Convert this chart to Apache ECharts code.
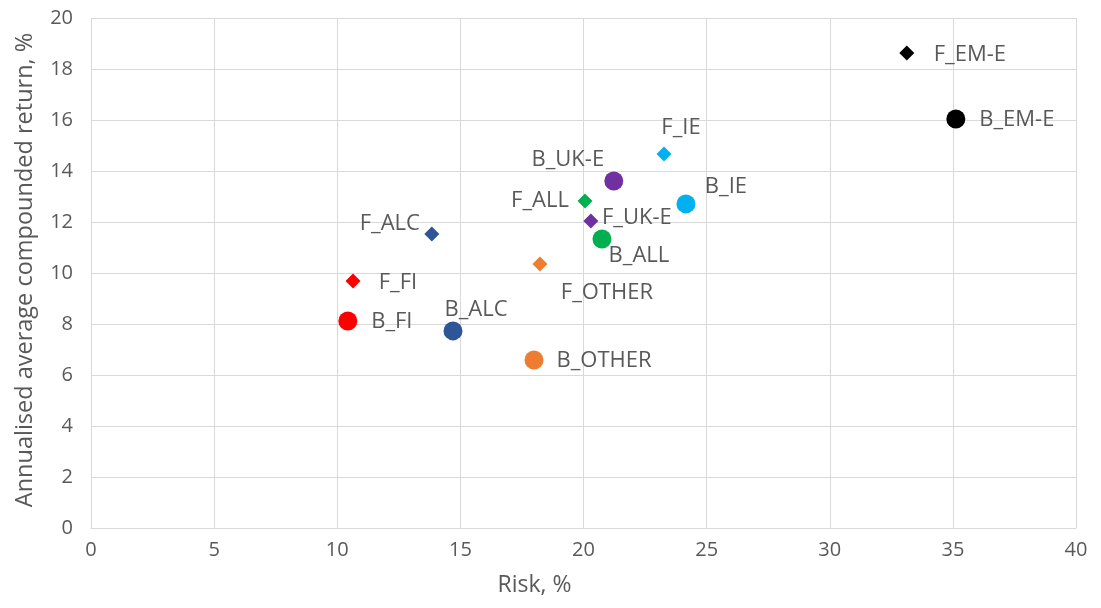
<!DOCTYPE html>
<html>
<head>
<meta charset="utf-8">
<script src="https://cdn.jsdelivr.net/npm/echarts@6/dist/echarts.min.js"></script>
<style>
  html, body { margin: 0; padding: 0; background: #fff; }
  #chart { width: 1101px; height: 608px; }
</style>
</head>
<body>
<div id="chart"></div>
<script>
// F_ funds (diamonds)
const fNames = ['F_EM-E', 'F_IE', 'F_ALL', 'F_UK-E', 'F_ALC', 'F_OTHER', 'F_FI']
const fRisk = [33.13, 23.27, 20.06, 20.30, 13.84, 18.23, 10.64]
const fReturn = [18.63, 14.67, 12.82, 12.04, 11.53, 10.35, 9.69]

// B_ funds (circles)
const bNames = ['B_EM-E', 'B_IE', 'B_UK-E', 'B_ALL', 'B_FI', 'B_ALC', 'B_OTHER']
const bRisk = [35.12, 24.16, 21.23, 20.75, 10.43, 14.70, 17.99]
const bReturn = [16.04, 12.71, 13.61, 11.33, 8.12, 7.73, 6.59]

const xTicks = [0, 5, 10, 15, 20, 25, 30, 35, 40]
const yTicks = [0, 2, 4, 6, 8, 10, 12, 14, 16, 18, 20]

// colour per group
const colors = {
  'EM-E': '#000000',
  'IE': '#00B0F0',
  'UK-E': '#7030A0',
  'ALL': '#00B050',
  'ALC': '#2F5597',
  'OTHER': '#ED7D31',
  'FI': '#FF0000'
}

// label offsets from marker centre (px)
const labelOffset = {
  'F_EM-E': [63, 2], 'B_EM-E': [61, 1],
  'F_IE': [17, -26], 'B_IE': [40, -17],
  'B_UK-E': [-46, -21], 'F_UK-E': [46, -3],
  'F_ALL': [-45, 0], 'B_ALL': [37, 17],
  'F_ALC': [-42, -10], 'B_ALC': [23, -21],
  'F_OTHER': [67, 29], 'B_OTHER': [70, 1],
  'F_FI': [45, 2], 'B_FI': [44, 1]
}

function build(names, risk, ret) {
  return names.map((n, i) => ({
    name: n,
    value: [risk[i], ret[i]],
    itemStyle: { color: colors[n.slice(2)], opacity: 1 },
    label: { offset: labelOffset[n] }
  }))
}

const font = 'Open Sans'
const labelStyle = {
  show: true,
  position: 'inside',
  formatter: '{b}',
  fontFamily: font,
  fontSize: 22,
  color: '#595959'
}

const gridLine = { show: true, lineStyle: { color: '#D9D9D9', width: 1 } }

const option = {
  animation: false,
  grid: { left: 91, right: 25, top: 18, bottom: 80 },
  xAxis: {
    type: 'value',
    min: 0, max: 40, interval: 5,
    name: 'Risk, %',
    nameLocation: 'middle',
    nameGap: 46,
    nameTextStyle: { fontFamily: font, fontSize: 23, color: '#595959', padding: [0, 98, 0, 0] },
    axisLine: { show: true, lineStyle: { color: '#D9D9D9' } },
    axisTick: { show: false },
    splitLine: gridLine,
    axisLabel: {
      fontFamily: font, fontSize: 20, color: '#595959', margin: 12,
      formatter: v => (xTicks.includes(v) ? String(v) : '')
    }
  },
  yAxis: {
    type: 'value',
    min: 0, max: 20, interval: 2,
    name: 'Annualised average compounded return, %',
    nameLocation: 'middle',
    nameGap: 54,
    nameTextStyle: { fontFamily: font, fontSize: 23.5, color: '#595959', padding: [0, 0, 0, 6] },
    axisLine: { show: true, lineStyle: { color: '#D9D9D9' } },
    axisTick: { show: false },
    splitLine: gridLine,
    axisLabel: {
      fontFamily: font, fontSize: 20, color: '#595959', margin: 18,
      formatter: v => (yTicks.includes(v) ? String(v) : '')
    }
  },
  series: [
    {
      type: 'scatter',
      symbol: 'diamond',
      symbolSize: 15,
      data: build(fNames, fRisk, fReturn),
      label: labelStyle
    },
    {
      type: 'scatter',
      symbol: 'circle',
      symbolSize: 19,
      data: build(bNames, bRisk, bReturn),
      label: labelStyle
    }
  ]
}

const chart = echarts.init(document.getElementById('chart'))
chart.setOption(option)
window.addEventListener('resize', () => chart.resize())
</script>
</body>
</html>
